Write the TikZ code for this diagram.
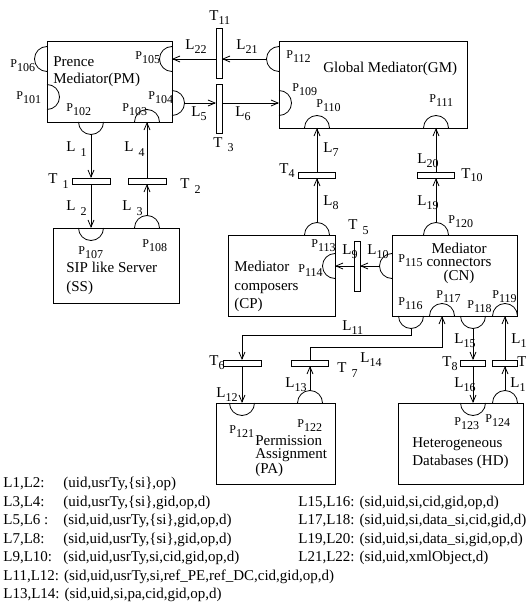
\documentclass[tikz,border=0pt]{standalone}
\usepackage{fontspec}
\setmainfont{Liberation Serif}
\usetikzlibrary{arrows.meta}

\newcommand{\idx}[2]{#1\raisebox{-4pt}{\fontsize{12}{12}\selectfont#2}}
\newcommand{\idxs}[2]{#1\hspace{5pt}\raisebox{-5pt}{\fontsize{12}{12}\selectfont#2}}

\tikzset{
  box/.style={draw, inner sep=0pt, outer sep=0pt},
  bar/.style={draw, fill=white, inner sep=0pt, outer sep=0pt},
  hbar/.style={bar, minimum width=38, minimum height=6},
  vbar/.style={bar, minimum width=6, minimum height=50},
  port/.pic={
    \draw (-12.5,0) arc[start angle=180, end angle=0, radius=12.5];
    \coordinate (-c) at (0,0);
    \coordinate (-tip) at (0,12.5);
  },
  link/.style={-{Straight Barb[length=7pt,width=6pt]}},
  lab/.style={font=\fontsize{15}{15}\selectfont, inner sep=0pt, anchor=base west},
  plab/.style={font=\fontsize{12}{12}\selectfont, inner sep=0pt, anchor=base west},
  txt/.style={font=\fontsize{15}{15}\selectfont, inner sep=0pt, anchor=base west}
}

\begin{document}
\begin{tikzpicture}[x=1pt, y=1pt, line width=0.8pt]
\useasboundingbox (0,0) rectangle (526,-604);
\clip (0,0) rectangle (526,-604);

% components
\node[box, minimum width=125, minimum height=81] (pm) at (109.5,-81.5) {};
\node[box, minimum width=188, minimum height=87] (gm) at (373,-84.5) {};
\node[box, minimum width=126, minimum height=75] (ss) at (116,-265.5) {};
\node[box, minimum width=107, minimum height=81] (cp) at (281.5,-275.5) {};
\node[box, minimum width=125, minimum height=81] (cn) at (454.5,-275.5) {};
\node[box, minimum width=119, minimum height=81] (pa) at (275.5,-443.5) {};
\node[box, minimum width=125, minimum height=81] (hd) at (460.5,-443.5) {};

\node[txt] (pmname) at (53,-67) {Prence};
\node[txt] (pmname2) at (53,-84) {Mediator(PM)};
\node[txt] (gmname) at (323,-73) {Global Mediator(GM)};
\node[txt] (ssname) at (66,-272) {SIP like Server};
\node[txt] (ssname2) at (66,-291) {(SS)};
\node[txt] (cpname) at (234,-271) {Mediator};
\node[txt] (cpname2) at (234,-290) {composers};
\node[txt] (cpname3) at (234,-308) {(CP)};
\node[txt, anchor=base] (cnname) at (459,-253) {Mediator};
\node[txt, anchor=base] (cnname2) at (459,-266) {connectors};
\node[txt, anchor=base] (cnname3) at (459,-280) {(CN)};
\node[txt] (paname) at (255,-445) {Permission};
\node[txt] (paname2) at (255,-458) {Assignment};
\node[txt] (paname3) at (255,-473) {(PA)};
\node[txt] (hdname) at (412,-447) {Heterogeneous};
\node[txt] (hdname2) at (412,-465) {Databases (HD)};

% transitions
\node[vbar] (t11) at (219,-53) {};
\node[vbar, minimum height=49] (t3) at (219,-108.5) {};
\node[hbar] (t1) at (91,-181) {};
\node[hbar] (t2) at (147,-181) {};
\node[hbar, minimum width=37] (t4) at (317,-175) {};
\node[hbar, minimum width=37] (t10) at (436,-175) {};
\node[vbar] (t5) at (357,-266) {};
\node[hbar] (t6) at (242,-363) {};
\node[hbar, minimum width=37] (t7) at (310,-363) {};
\node[hbar, minimum width=25] (t8) at (473,-363) {};
\node[hbar, minimum width=25] (t9) at (505,-363) {};

% ports
\pic[rotate=90] (p106) at (47,-59) {port};
\pic[rotate=-90] (p101) at (47,-97) {port};
\pic[rotate=90] (p105) at (172,-59) {port};
\pic[rotate=-90] (p104) at (172,-103) {port};
\pic[rotate=180] (p102) at (91,-122) {port};
\pic (p103) at (147,-122) {port};
\pic[rotate=90] (p112) at (279,-59) {port};
\pic[rotate=-90] (p109) at (279,-103) {port};
\pic (p110) at (317,-128) {port};
\pic (p111) at (436,-128) {port};
\pic[rotate=180] (p107) at (91,-228) {port};
\pic (p108) at (147,-228) {port};
\pic (p113) at (317,-235) {port};
\pic[rotate=90] (p114) at (335,-266) {port};
\pic[rotate=90] (p115) at (392,-266) {port};
\pic (p120) at (436,-235) {port};
\pic[rotate=180] (p116) at (411,-316) {port};
\pic (p117) at (442,-316) {port};
\pic[rotate=180] (p118) at (473,-316) {port};
\pic (p119) at (505,-316) {port};
\pic[rotate=180] (p121) at (242,-403) {port};
\pic (p122) at (310,-403) {port};
\pic[rotate=180] (p123) at (473,-403) {port};
\pic (p124) at (505,-403) {port};

% links
\draw[link] (p102-tip) -- (t1.north);
\draw[link] (t1.south) -- (p107-c);
\draw[link] (p108-tip) -- (t2.south);
\draw[link] (t2.north) -- (p103-c);
\draw[link] (p104-tip) -- (p104-tip -| t3.west);
\draw[link] (p104-tip -| t3.east) -- (p109-c);
\draw[link] (p112-tip) -- (p112-tip -| t11.east);
\draw[link] (p105-c -| t11.west) -- (p105-c);
\draw[link] (t4.north) -- (p110-c);
\draw[link] (p113-tip) -- (t4.south);
\draw[link] (p120-tip) -- (t10.south);
\draw[link] (t10.north) -- (p111-c);
\draw[link] (p115-tip) -- (t5.east |- p115-tip);
\draw[link] (t5.west |- p114-c) -- (p114-c);
\draw[link] (p116-tip) -- ++(0,-6.5) -| (t6.north);
\draw[link] (t6.south) -- (p121-c);
\draw[link] (p122-tip) -- (t7.south);
\draw[link] (t7.north) -- ++(0,13) -| (p117-c);
\draw[link] (p118-tip) -- (t8.north);
\draw[link] (t8.south) -- (p123-c);
\draw[link] (p124-tip) -- (t9.south);
\draw[link] (t9.north) -- (p119-c);

% port labels
\node[plab] (lp106) at (10,-68) {\idx{P}{106}};
\node[plab] (lp101) at (16,-100) {\idx{P}{101}};
\node[plab] (lp105) at (135,-60) {\idx{P}{105}};
\node[plab] (lp104) at (148,-100) {\idx{P}{104}};
\node[plab] (lp102) at (66,-112) {\idx{P}{102}};
\node[plab] (lp103) at (122,-112) {\idx{P}{103}};
\node[plab] (lp112) at (286,-59) {\idx{P}{112}};
\node[plab] (lp109) at (292,-92) {\idx{P}{109}};
\node[plab] (lp110) at (316,-108) {\idx{P}{110}};
\node[plab] (lp111) at (429,-103) {\idx{P}{111}};
\node[plab] (lp107) at (78,-254) {\idx{P}{107}};
\node[plab] (lp108) at (142,-247) {\idx{P}{108}};
\node[plab] (lp113) at (311,-247) {\idx{P}{113}};
\node[plab] (lp114) at (298,-272) {\idx{P}{114}};
\node[plab] (lp115) at (398,-262) {\idx{P}{115}};
\node[plab] (lp120) at (448,-223) {\idx{P}{120}};
\node[plab] (lp116) at (398,-305) {\idx{P}{116}};
\node[plab] (lp117) at (436,-298) {\idx{P}{117}};
\node[plab] (lp118) at (467,-308) {\idx{P}{118}};
\node[plab] (lp119) at (492,-298) {\idx{P}{119}};
\node[plab] (lp121) at (229,-433) {\idx{P}{121}};
\node[plab] (lp122) at (297,-427) {\idx{P}{122}};
\node[plab] (lp123) at (454,-425) {\idx{P}{123}};
\node[plab] (lp124) at (485,-422) {\idx{P}{124}};

% transition labels
\node[lab] (lt11) at (209,-21) {\idx{T}{11}};
\node[lab] (lt3) at (213,-147) {\idxs{T}{3}};
\node[lab] (lt1) at (48,-183) {\idxs{T}{1}};
\node[lab] (lt2) at (180,-188) {\idxs{T}{2}};
\node[lab] (lt4) at (279,-173) {\idx{T}{4}};
\node[lab] (lt10) at (461,-178) {\idx{T}{10}};
\node[lab] (lt5) at (348,-229) {\idxs{T}{5}};
\node[lab] (lt6) at (209,-365) {\idx{T}{6}};
\node[lab] (lt7) at (337,-372) {\idxs{T}{7}};
\node[lab] (lt8) at (442,-366) {\idx{T}{8}};
\node[lab] (lt9) at (517,-366) {\idx{T}{9}};

% link labels
\node[lab] (ll22) at (185,-50) {\idx{L}{22}};
\node[lab] (ll21) at (236,-50) {\idx{L}{21}};
\node[lab] (ll5) at (191,-117) {\idx{L}{5}};
\node[lab] (ll6) at (235,-117) {\idx{L}{6}};
\node[lab] (ll1) at (66,-152) {\idxs{L}{1}};
\node[lab] (ll4) at (124,-152) {\idxs{L}{4}};
\node[lab] (ll2) at (66,-210) {\idxs{L}{2}};
\node[lab] (ll3) at (122,-210) {\idxs{L}{3}};
\node[lab] (ll7) at (323,-153) {\idx{L}{7}};
\node[lab] (ll20) at (417,-164) {\idx{L}{20}};
\node[lab] (ll8) at (323,-205) {\idx{L}{8}};
\node[lab] (ll19) at (417,-205) {\idx{L}{19}};
\node[lab] (ll9) at (342,-254) {\idx{L}{9}};
\node[lab] (ll10) at (367,-254) {\idx{L}{10}};
\node[lab] (ll11) at (342,-330) {\idx{L}{11}};
\node[lab] (ll14) at (360,-362) {\idx{L}{14}};
\node[lab] (ll15) at (454,-343) {\idx{L}{15}};
\node[lab] (ll18) at (511,-343) {\idx{L}{18}};
\node[lab] (ll12) at (216,-397) {\idx{L}{12}};
\node[lab] (ll13) at (285,-387) {\idx{L}{13}};
\node[lab] (ll16) at (454,-387) {\idx{L}{16}};
\node[lab] (ll17) at (510,-387) {\idx{L}{17}};

% legend
\node[txt] (k1) at (3,-487) {L1,L2:};
\node[txt] (v1) at (63,-487) {(uid,usrTy,\{si\},op)};
\node[txt] (k2) at (3,-506) {L3,L4:};
\node[txt] (v2) at (63,-506) {(uid,usrTy,\{si\},gid,op,d)};
\node[txt] (k3) at (3,-524) {L5,L6 :};
\node[txt] (v3) at (63,-524) {(sid,uid,usrTy,\{si\},gid,op,d)};
\node[txt] (k4) at (3,-543) {L7,L8:};
\node[txt] (v4) at (63,-543) {(sid,uid,usrTy,\{si\},gid,op,d)};
\node[txt] (k5) at (3,-561) {L9,L10:};
\node[txt] (v5) at (63,-561) {(sid,uid,usrTy,si,cid,gid,op,d)};
\node[txt] (k6) at (3,-580) {L11,L12: (sid,uid,usrTy,si,ref\_PE,ref\_DC,cid,gid,op,d)};
\node[txt] (k7) at (3,-598) {L13,L14: (sid,uid,si,pa,cid,gid,op,d)};
\node[txt] (k8) at (298,-506) {L15,L16: (sid,uid,si,cid,gid,op,d)};
\node[txt] (k9) at (298,-524) {L17,L18: (sid,uid,si,data\_si,cid,gid,d)};
\node[txt] (k10) at (298,-543) {L19,L20: (sid,uid,si,data\_si,gid,op,d)};
\node[txt] (k11) at (298,-561) {L21,L22: (sid,uid,xmlObject,d)};
\end{tikzpicture}
\end{document}
